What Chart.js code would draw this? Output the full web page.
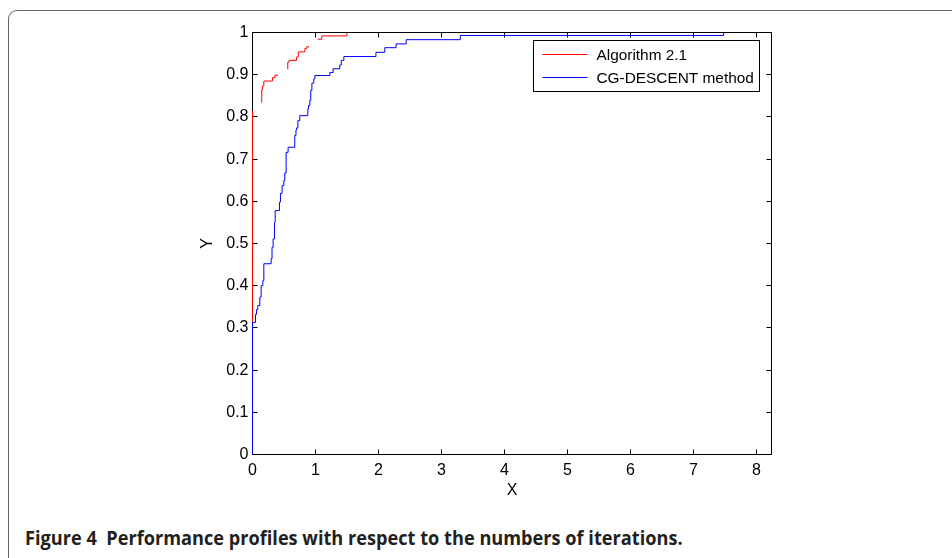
<!DOCTYPE html>
<html>
<head>
<meta charset="utf-8">
<script src="https://cdn.jsdelivr.net/npm/chart.js@4"></script>
<style>
html, body { margin: 0; padding: 0; background: #fff; }
body { width: 952px; height: 558px; position: relative; overflow: hidden; }
#frame { position: absolute; left: 8px; top: 10px; width: 1000px; height: 600px;
  border-left: 1px solid #666; border-top: 1px solid #666; border-top-left-radius: 9px; }
#wrap { position: absolute; left: 0; top: 0; width: 952px; height: 510px; }
#caption { position: absolute; left: 25px; top: 525px; font: bold 19px "Open Sans", sans-serif;
  white-space: pre; transform-origin: 0 0; color: #231f20; }
</style>
</head>
<body>
<div id="frame"></div>
<div id="wrap"><canvas id="myChart" width="952" height="510"></canvas></div>
<div id="caption">Figure 4  Performance profiles with respect to the numbers of iterations.</div>
<script>
const xTicks = [0, 1, 2, 3, 4, 5, 6, 7, 8];
const xTickLabels = ["0", "1", "2", "3", "4", "5", "6", "7", "8"];
const yTicks = [0, 0.1, 0.2, 0.3, 0.4, 0.5, 0.6, 0.7, 0.8, 0.9, 1];
const yTickLabels = ["0", "0.1", "0.2", "0.3", "0.4", "0.5", "0.6", "0.7", "0.8", "0.9", "1"];
const xMax = 8.24;

// Algorithm 2.1 (null = break in the drawn line)
const algX = [0, 0, 0.1, 0.147, 0.147, 0.16, 0.18, 0.317, 0.355, 0.407, 0.48, 0.56, 0.56, 0.583, 0.70, 0.727, 0.832, 0.86, 0.90, 0.97, 1.036, 1.10, 1.50];
const algY = [0, 0.815, null, 0.834, 0.865, 0.873, 0.885, 0.893, 0.899, 0.899, null, 0.913, 0.930, 0.934, 0.942, 0.954, 0.962, 0.966, 0.966, null, 0.984, 0.992, 1.0];

// CG-DESCENT method
const cgX = [0, 0, 0.048, 0.063, 0.084, 0.116, 0.137, 0.164, 0.18, 0.296, 0.31, 0.327, 0.349, 0.36, 0.428, 0.444, 0.47, 0.497, 0.513, 0.534, 0.565, 0.671, 0.69, 0.70, 0.72, 0.75, 0.878, 0.89, 0.91, 0.925, 0.943, 0.973, 0.99, 1.227, 1.28, 1.385, 1.41, 1.45, 1.96, 2.10, 2.28, 2.44, 3.30, 7.48];
const cgY = [0, 0.313, 0.332, 0.343, 0.353, 0.373, 0.400, 0.412, 0.452, 0.464, 0.491, 0.511, 0.550, 0.578, 0.598, 0.619, 0.637, 0.649, 0.667, 0.716, 0.728, 0.756, 0.769, 0.774, 0.791, 0.803, 0.819, 0.827, 0.839, 0.863, 0.880, 0.890, 0.898, 0.905, 0.914, 0.923, 0.934, 0.943, 0.953, 0.964, 0.973, 0.983, 0.993, 1.0];

const seriesNames = ["Algorithm 2.1", "CG-DESCENT method"];

const toPoints = (xs, ys) => xs.map((x, i) => ({ x: x, y: ys[i] }));

// axes box with inward ticks on all four sides
const matlabBox = {
  id: 'matlabBox',
  beforeDatasetsDraw(chart) {
    const { ctx, chartArea: a, scales: { x, y } } = chart;
    const L = Math.floor(a.left) + 0.5, R = Math.floor(a.right) + 0.5;
    const T = Math.floor(a.top) + 0.5, B = Math.floor(a.bottom) + 0.5;
    ctx.save();
    ctx.strokeStyle = '#000';
    ctx.lineWidth = 1;
    ctx.beginPath();
    ctx.rect(L, T, R - L, B - T);
    x.ticks.forEach(t => {
      const px = Math.floor(x.getPixelForValue(t.value)) + 0.5;
      ctx.moveTo(px, B); ctx.lineTo(px, B - 5);
      ctx.moveTo(px, T); ctx.lineTo(px, T + 5);
    });
    y.ticks.forEach(t => {
      const py = Math.floor(y.getPixelForValue(t.value)) + 0.5;
      ctx.moveTo(L, py); ctx.lineTo(L + 5, py);
      ctx.moveTo(R, py); ctx.lineTo(R - 5, py);
    });
    ctx.stroke();
    ctx.restore();
  }
};

const boxLegend = {
  id: 'boxLegend',
  afterDraw(chart) {
    const { ctx, chartArea: a } = chart;
    const w = 226, h = 51;
    const lx = Math.floor(a.right) - 11.5 - w, ly = Math.floor(a.top) + 8.5;
    ctx.save();
    ctx.fillStyle = '#fff';
    ctx.fillRect(lx, ly, w, h);
    ctx.strokeStyle = '#000';
    ctx.lineWidth = 1;
    ctx.strokeRect(lx, ly, w, h);
    ctx.font = '15.4px "Liberation Sans", Arial, sans-serif';
    ctx.textBaseline = 'middle';
    chart.data.datasets.forEach((ds, i) => {
      const cy = ly + 14 + i * 23;
      ctx.strokeStyle = ds.borderColor;
      ctx.beginPath();
      ctx.moveTo(lx + 9, cy);
      ctx.lineTo(lx + 54, cy);
      ctx.stroke();
      ctx.fillStyle = '#000';
      ctx.fillText(ds.label, lx + 63, cy + 1);
    });
    ctx.restore();
  }
};

const tickFont = { family: '"Liberation Sans", Arial, sans-serif', size: 16 };

const config = {
  type: 'line',
  data: {
    datasets: [
      {
        label: seriesNames[0],
        data: toPoints(algX, algY),
        borderColor: '#ff0000',
        borderWidth: 1,
        pointRadius: 0,
        stepped: 'before',
        spanGaps: false,
        clip: false,
        order: 1,
      },
      {
        label: seriesNames[1],
        data: toPoints(cgX, cgY),
        borderColor: '#0000ff',
        borderWidth: 1,
        pointRadius: 0,
        stepped: 'before',
        clip: false,
        order: 0,
      },
    ],
  },
  options: {
    responsive: false,
    animation: false,
    events: [],
    layout: { padding: { left: 190.5, right: 180.5, top: 32.5, bottom: 5.5 } },
    plugins: {
      legend: { display: false },
      tooltip: { enabled: false },
    },
    scales: {
      x: {
        type: 'linear',
        min: 0,
        max: xMax,
        grid: { display: false, drawTicks: false },
        border: { display: false },
        afterBuildTicks: s => { s.ticks = xTicks.map(v => ({ value: v })); },
        afterFit: s => { s.height = 50; },
        ticks: {
          color: '#000',
          font: tickFont,
          padding: 6,
          maxRotation: 0,
          autoSkip: false,
          callback: (v, i) => xTickLabels[i],
        },
        title: { display: true, text: 'X', color: '#000', font: tickFont, padding: { top: 0, bottom: 4 } },
      },
      y: {
        type: 'linear',
        min: 0,
        max: 1,
        grid: { display: false, drawTicks: false },
        border: { display: false },
        afterBuildTicks: s => { s.ticks = yTicks.map(v => ({ value: v })); },
        afterFit: s => { s.width = 62; },
        ticks: {
          color: '#000',
          font: tickFont,
          padding: 4,
          autoSkip: false,
          callback: (v, i) => yTickLabels[i],
        },
        title: { display: true, text: 'Y', color: '#000', font: tickFont, padding: { top: 7, bottom: 0 } },
      },
    },
  },
  plugins: [matlabBox, boxLegend],
};

const myChart = new Chart(document.getElementById('myChart'), config);

const cap = document.getElementById('caption');
cap.style.transform = 'scaleX(' + (658 / cap.offsetWidth) + ')';
</script>
</body>
</html>
